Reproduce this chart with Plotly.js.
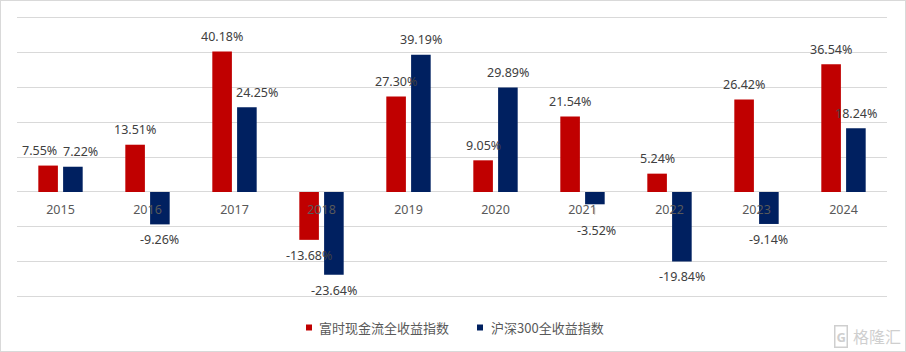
<!DOCTYPE html>
<html>
<head>
<meta charset="utf-8">
<script src="https://cdn.plot.ly/plotly-3.0.1.min.js"></script>
<style>
  html, body { margin: 0; padding: 0; background: #ffffff; }
  #chart { width: 904px; height: 350px; border: 1px solid #d9d9d9; }
</style>
</head>
<body>
<div id="chart"></div>
<script>
// ---- data ----
const categories = ['2015','2016','2017','2018','2019','2020','2021','2022','2023','2024'];
const seriesNames = ['富时现金流全收益指数', '沪深300全收益指数'];
const ftseValues = [7.55, 13.51, 40.18, -13.68, 27.30, 9.05, 21.54, 5.24, 26.42, 36.54];
const csiValues  = [7.22, -9.26, 24.25, -23.64, 39.19, 29.89, -3.52, -19.84, -9.14, 18.24];

// ---- style ----
const RED = '#C00000', NAVY = '#002060';
const FONT = 'Noto Sans, Noto Sans CJK SC, sans-serif';
const CJK = 'Noto Sans CJK SC, Noto Sans, sans-serif';
const L = 16, R = 18, T = 15, B = 53, W = 904, H = 350;
const Y_RANGE = [-30.3, 50.3];
const plotW = W - L - R, plotH = H - T - B;
const px = x => (x - 1 - L) / plotW;          // page px -> paper x
const py = y => (H - B - (y - 1)) / plotH;    // page px -> paper y

const traces = [
  { type: 'bar', name: seriesNames[0], x: categories, y: ftseValues,
    marker: { color: RED, line: { width: 0 } }, hoverinfo: 'none', showlegend: false },
  { type: 'bar', name: seriesNames[1], x: categories, y: csiValues,
    marker: { color: NAVY, line: { width: 0 } }, hoverinfo: 'none', showlegend: false }
];

// label nudges (px) for labels the original chart moved by hand
const nudge = {
  '0-0': [-9, 0], '1-0': [8, 0], '1-2': [10, 0], '1-6': [2, -11]
};

const annotations = [];
[ftseValues, csiValues].forEach((vals, s) => {
  const side = s === 0 ? -12.4 : 12.4;
  vals.forEach((v, j) => {
    const n = nudge[s + '-' + j] || [0, 0];
    annotations.push({
      x: j, y: v, xref: 'x', yref: 'y',
      text: v.toFixed(2) + '%', showarrow: false,
      xanchor: 'center', yanchor: 'middle',
      xshift: side + n[0], yshift: (v >= 0 ? 15 : -15.5) + n[1],
      font: { family: FONT, size: 12.5, color: '#404040' }
    });
  });
});

// manual legend
annotations.push(
  { xref: 'paper', yref: 'paper', x: px(317), y: py(327.5), xanchor: 'left', yanchor: 'middle',
    text: seriesNames[0], showarrow: false, font: { family: CJK, size: 13, color: '#595959' } },
  { xref: 'paper', yref: 'paper', x: px(489), y: py(327.5), xanchor: 'left', yanchor: 'middle',
    text: seriesNames[1], showarrow: false, font: { family: CJK, size: 13, color: '#595959' } },
  // watermark
  { xref: 'paper', yref: 'paper', x: px(840.5), y: py(336), xanchor: 'center', yanchor: 'middle',
    text: '<b>G</b>', showarrow: false, font: { family: FONT, size: 13, color: '#cfcfcf' },
    bordercolor: '#cfcfcf', borderwidth: 1.5, borderpad: 1 },
  { xref: 'paper', yref: 'paper', x: px(851), y: py(336), xanchor: 'left', yanchor: 'middle',
    text: '格隆汇', showarrow: false, font: { family: CJK, size: 16, color: '#cfcfcf' } }
);

const shapes = [
  { type: 'rect', xref: 'paper', yref: 'paper', x0: px(306), x1: px(312), y0: py(330.5), y1: py(324.5),
    fillcolor: RED, line: { width: 0 } },
  { type: 'rect', xref: 'paper', yref: 'paper', x0: px(477), x1: px(483), y0: py(330.5), y1: py(324.5),
    fillcolor: NAVY, line: { width: 0 } },
  // leader line of the moved 2021 label
  { type: 'line', xref: 'x', yref: 'paper', x0: 6.14, x1: 6.14, y0: py(207.5), y1: py(214.5),
    line: { color: '#a6a6a6', width: 1 } }
];

const layout = {
  width: W, height: H,
  margin: { l: L, r: R, t: T, b: B, pad: 0 },
  paper_bgcolor: '#ffffff', plot_bgcolor: '#ffffff',
  barmode: 'group', bargap: 0.43, bargroupgap: 0.21,
  showlegend: false,
  xaxis: {
    type: 'category', anchor: 'free',
    position: -Y_RANGE[0] / (Y_RANGE[1] - Y_RANGE[0]),
    range: [-0.5, categories.length - 0.5],
    showgrid: false, showline: false, zeroline: false, ticks: '',
    ticklabelstandoff: 9,
    tickfont: { family: FONT, size: 12.5, color: '#595959' }
  },
  yaxis: {
    range: Y_RANGE, dtick: 10, tick0: 0,
    showgrid: true, gridcolor: '#d9d9d9', gridwidth: 1,
    zeroline: true, zerolinecolor: '#d9d9d9', zerolinewidth: 1,
    showticklabels: false, ticks: '', showline: false
  },
  annotations: annotations,
  shapes: shapes
};

Plotly.newPlot('chart', traces, layout, { displayModeBar: false, staticPlot: true });
</script>
</body>
</html>
